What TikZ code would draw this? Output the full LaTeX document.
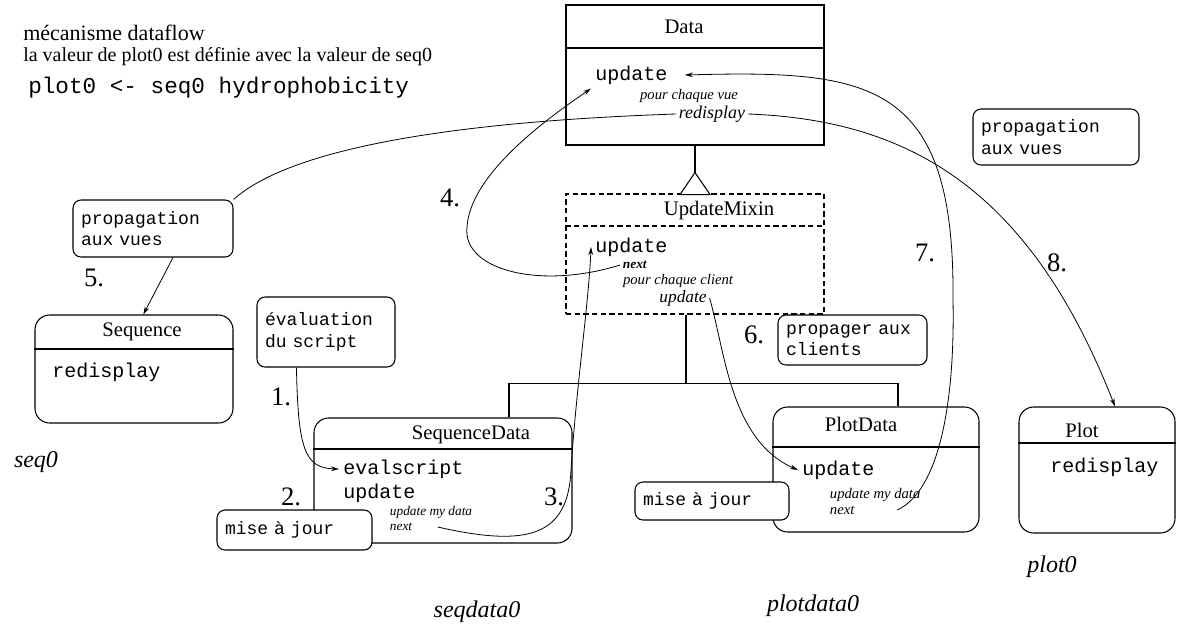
\documentclass[tikz,border=0pt]{standalone}
\usepackage{fontspec}
\setmainfont{Liberation Serif}
\newfontfamily\cour{Liberation Mono}
\usetikzlibrary{arrows.meta, positioning}

\begin{document}
\begin{tikzpicture}[x=0.75pt, y=-0.75pt]

    \tikzstyle{klass} = [draw, line width=0.8pt, inner sep=0pt]
    \tikzstyle{ctitle} = [font=\fontsize{15.5}{18}\selectfont]
    \tikzstyle{member} = [anchor=west, inner sep=3pt, font=\cour\fontsize{15}{18}\selectfont]
    \tikzstyle{note} = [draw, line width=0.8pt, rounded corners=6pt, fill=white, align=left, inner xsep=6pt, font=\cour\fontsize{13.5}{16}\selectfont]
    \tikzstyle{msg} = [inner sep=2pt, font=\itshape\fontsize{11}{13}\selectfont]
    \tikzstyle{tinymsg} = [anchor=west, inner sep=2pt, font=\itshape\fontsize{10}{12}\selectfont]
    \tikzstyle{num} = [font=\fontsize{20}{24}\selectfont]
    \tikzstyle{obj} = [font=\itshape\fontsize{18}{22}\selectfont]
    \tikzstyle{arrow} = [line width=0.6pt, -{Stealth[length=6pt, width=3.5pt]}]
    \tikzstyle{flow} = [line width=0.6pt]

    \useasboundingbox (0,0) rectangle (1185,629);

    \node (head1) [anchor=west, inner sep=0pt, font=\fontsize{16.5}{18}\selectfont] at (23,33) {mécanisme dataflow};
    \node (head2) [anchor=west, inner sep=0pt, font=\fontsize{15}{18}\selectfont] at (23,57) {la valeur de plot0 est définie avec la valeur de seq0};
    \node (head3) [anchor=west, inner sep=0pt, font=\cour\fontsize{17}{20}\selectfont] at (28,88) {plot0 <- seq0 hydrophobicity};

    \node (data) [klass, minimum width=193.5pt, minimum height=105pt] at (695,75) {};
    \node (mixin) [klass, dash pattern=on 4pt off 2.5pt, minimum width=193.5pt, minimum height=90pt] at (695,254) {};
    \node (seqdata) [klass, rounded corners=11pt, minimum width=193.5pt, minimum height=93.75pt] at (443,480.5) {};
    \node (plotdata) [klass, rounded corners=11pt, minimum width=154.5pt, minimum height=93.75pt] at (876,469.5) {};
    \node (seq) [klass, rounded corners=11pt, minimum width=148.5pt, minimum height=81pt] at (134,369) {};
    \node (plot) [klass, rounded corners=11pt, minimum width=117pt, minimum height=94.5pt] at (1097,470) {};

    \draw[line width=0.8pt] (data.west |- 0,48) -- (data.east |- 0,48);
    \draw[line width=0.8pt, dash pattern=on 4pt off 2.5pt] (mixin.west |- 0,226) -- (mixin.east |- 0,226);
    \draw[line width=0.8pt] (seqdata.west |- 0,449) -- (seqdata.east |- 0,449);
    \draw[line width=0.8pt] (plotdata.west |- 0,447) -- (plotdata.east |- 0,447);
    \draw[line width=0.8pt] (seq.west |- 0,349) -- (seq.east |- 0,349);
    \draw[line width=0.8pt] (plot.west |- 0,443) -- (plot.east |- 0,443);

    \node (datatitle) [ctitle] at (684,27) {Data};
    \node (mixtitle) [ctitle] at (719,211) {UpdateMixin};
    \node (seqdtitle) [ctitle] at (471,435) {SequenceData};
    \node (pdtitle) [ctitle] at (861,424) {PlotData};
    \node (seqtitle) [ctitle] at (142,332) {Sequence};
    \node (plottitle) [ctitle] at (1082,430) {Plot};

    \node (dataupd) [member] at (591,75) {update};
    \node (datavue) [msg] at (689,96) {pour chaque vue};
    \node (datared) [msg, font=\itshape\fontsize{13.5}{16}\selectfont] at (712,114) {redisplay};

    \node (mixupd) [member] at (591,247) {update};
    \node (mixnext) [tinymsg, font=\itshape\bfseries\fontsize{10}{12}\selectfont] at (620,265) {next};
    \node (mixcli) [msg] at (678,281) {pour chaque client};
    \node (mixupdi) [msg, font=\itshape\fontsize{13}{15}\selectfont] at (683,298) {update};

    \node (evalscr) [member] at (339,469) {evalscript};
    \node (sequpd) [member] at (339,493) {update};
    \node (seqmy) [tinymsg] at (387,512) {update my data};
    \node (seqnext) [tinymsg] at (387,527) {next};

    \node (plotupd) [member] at (798,470) {update};
    \node (pdmy) [tinymsg, font=\itshape\fontsize{11}{12}\selectfont] at (827,495) {update my data};
    \node (pdnext) [tinymsg, font=\itshape\fontsize{11}{12}\selectfont] at (827,510) {next};

    \node (seqred) [member] at (48,372) {redisplay};
    \node (plotred) [member] at (1046,467) {redisplay};

    \draw[line width=0.8pt] (data.south) -- ++(0,27) coordinate (apex);
    \draw[line width=0.8pt, fill=white] (apex) -- ++(-15,22) -- ++(30,0) -- cycle;
    \draw[line width=0.8pt] ([xshift=-6.75pt]mixin.south) -- ++(0,69) coordinate (fork);
    \draw[line width=0.8pt] ([xshift=49.5pt]seqdata.north) |- (fork) -| ([xshift=16.5pt]plotdata.north);

    \node (propl) [note, text width=108pt, minimum height=42.75pt] at (153,228.5) {propagation\\aux vues};
    \node (evalnote) [note, text width=91.5pt, minimum height=52.5pt] at (326,332) {évaluation\\du script};
    \node (mise1) [note, text width=104.25pt, minimum height=30pt] at (294.5,530) {mise à jour};
    \node (mise2) [note, text width=103.5pt, minimum height=28.5pt] at (712,501) {mise à jour};
    \node (propager) [note, text width=99.75pt, minimum height=37.5pt] at (852.5,340) {propager aux\\clients};
    \node (propr) [note, text width=112.5pt, minimum height=42pt] at (1056,137) {propagation\\aux vues};

    \draw[arrow] ([xshift=30pt]evalnote.south west) .. controls (298,450) and (305,468) .. (evalscr.west);
    \draw[arrow] ([xshift=17pt]seqnext.east) .. controls (530,548) and (568,535) .. (571,470) .. controls (576,390) and (589,300) .. (mixupd.west);
    \draw[arrow] (mixnext.west) .. controls (540,290) and (462,270) .. (467,227) .. controls (470,180) and (530,130) .. (dataupd.south west);
    \draw[flow] (datared.west) .. controls (500,120) and (300,140) .. (propl.north east);
    \draw[arrow] ([xshift=15pt]propl.south) -- ([xshift=7pt]seq.north);
    \draw[arrow] (mixupdi.east) .. controls (725,350) and (730,440) .. (plotupd.west);
    \draw[arrow] ([xshift=30pt]pdnext.east) .. controls (940,490) and (955,400) .. (953,300) .. controls (955,80) and (870,70) .. ([xshift=10pt]dataupd.east);
    \draw[arrow] (datared.east) .. controls (910,120) and (1030,190) .. ([xshift=13.5pt]plot.north);

    \node (n1) [num] at (281,397) {1.};
    \node (n2) [num] at (291,497) {2.};
    \node (n3) [num] at (554,497) {3.};
    \node (n4) [num] at (450,198) {4.};
    \node (n5) [num] at (94,278) {5.};
    \node (n6) [num] at (754,335) {6.};
    \node (n7) [num] at (925,253) {7.};
    \node (n8) [num] at (1057,263) {8.};

    \node (seq0) [obj] at (36,462) {seq0};
    \node (seqdata0) [obj] at (477,612) {seqdata0};
    \node (plotdata0) [obj] at (813,606) {plotdata0};
    \node (plot0) [obj] at (1052,567) {plot0};

\end{tikzpicture}
\end{document}
